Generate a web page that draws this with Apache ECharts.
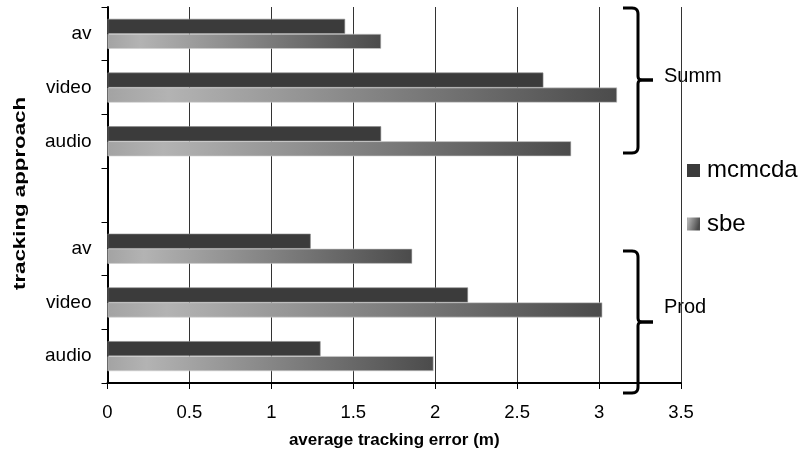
<!DOCTYPE html>
<html>
<head>
<meta charset="utf-8">
<script src="https://cdn.jsdelivr.net/npm/echarts@6/dist/echarts.min.js"></script>
<style>html,body{margin:0;padding:0;background:#fff}#c{width:804px;height:466px}</style>
</head>
<body>
<div id="c"></div>
<script>
// categories listed bottom to top
const categories = ['audio', 'video', 'av', '', 'audio', 'video', 'av'];
const mcmcda = [1.30, 2.20, 1.24, null, 1.67, 2.66, 1.45];
const sbe = [1.99, 3.02, 1.86, null, 2.83, 3.11, 1.67];
const xTicks = { min: 0, max: 3.5, interval: 0.5 };
const groupLabels = ['Summ', 'Prod'];

const FONT = '"Liberation Sans", Arial, sans-serif';
const chart = echarts.init(document.getElementById('c'), null, { renderer: 'canvas' });

const sbeGrad = {
  type: 'linear', x: 0, y: 0, x2: 1, y2: 0.3, global: false,
  colorStops: [
    { offset: 0, color: '#a3a3a3' },
    { offset: 0.12, color: '#b3b3b3' },
    { offset: 1, color: '#4b4b4b' }
  ]
};

// quadratic corner sampling for brace decoration
function quad(p0, c, p1, n) {
  const pts = [];
  for (let i = 0; i <= n; i++) {
    const t = i / n, u = 1 - t;
    pts.push([u*u*p0[0] + 2*u*t*c[0] + t*t*p1[0], u*u*p0[1] + 2*u*t*c[1] + t*t*p1[1]]);
  }
  return pts;
}
function braceHalves(x0, xv, xp, yt, ym, yb) {
  const up = [[x0, yt]].concat(
    quad([xv-6, yt], [xv, yt], [xv, yt+6], 6),
    quad([xv, ym-4], [xv, ym], [xv+4, ym], 5),
    [[xp, ym]]);
  const lo = [[xp, ym]].concat(
    quad([xv+4, ym], [xv, ym], [xv, ym+4], 5),
    quad([xv, yb-6], [xv, yb], [xv-6, yb], 6),
    [[x0, yb]]);
  return [up, lo];
}
const b1 = braceHalves(623, 638, 653, 8, 80, 153);
const b2 = braceHalves(623, 638, 653, 251, 322, 393);
const braceEls = [].concat(b1, b2).map(pts => ({
  type: 'polyline', z: 10, shape: { points: pts },
  style: { fill: null, stroke: '#000', lineWidth: 3, lineJoin: 'round' }
}));

chart.setOption({
  animation: false,
  textStyle: { fontFamily: FONT, color: '#000' },
  grid: { left: 107.5, right: 123, top: 7, bottom: 83, containLabel: false },
  legend: {
    orient: 'vertical',
    left: 687,
    top: 158.5,
    padding: 0,
    itemWidth: 13,
    itemHeight: 13,
    itemGap: 29.5,
    icon: 'rect',
    data: ['mcmcda', 'sbe'],
    itemStyle: { borderWidth: 0 },
    textStyle: { fontFamily: FONT, fontSize: 24, color: '#000', padding: [0, 0, 0, 2] }
  },
  xAxis: {
    type: 'value',
    min: xTicks.min, max: xTicks.max, interval: xTicks.interval,
    name: 'average tracking error (m)',
    nameLocation: 'middle',
    nameGap: 49,
    nameTextStyle: { fontFamily: FONT, fontSize: 17, fontWeight: 'bold', color: '#000' },
    axisLine: { show: true, lineStyle: { color: '#000', width: 2 } },
    axisTick: { show: true, length: 6, lineStyle: { color: '#000', width: 1 } },
    axisLabel: { fontFamily: FONT, fontSize: 18.5, color: '#000', margin: 20 },
    splitLine: { show: true, lineStyle: { color: '#333', width: 1 } }
  },
  yAxis: {
    type: 'category',
    data: categories,
    axisLine: { show: true, lineStyle: { color: '#000', width: 2 } },
    axisTick: { show: true, length: 6, interval: 0, lineStyle: { color: '#000', width: 1 } },
    axisLabel: { interval: 0, fontFamily: FONT, fontSize: 19, color: '#000', margin: 16 },
    splitLine: { show: false }
  },
  series: [
    {
      name: 'mcmcda', type: 'bar', data: mcmcda,
      barWidth: 15, barGap: '0%',
      itemStyle: { color: '#3b3b3b', borderColor: '#8a8a8a', borderWidth: 0.6 }
    },
    {
      name: 'sbe', type: 'bar', data: sbe,
      barWidth: 15, barGap: '0%',
      itemStyle: { color: sbeGrad, borderColor: '#cfcfcf', borderWidth: 0.6 }
    }
  ],
  graphic: braceEls.concat([
    { type: 'text', left: 664, top: 66, z: -1,
      style: { text: groupLabels[0], font: '20px ' + FONT, fill: '#000' } },
    { type: 'text', left: 664, top: 297, z: -1,
      style: { text: groupLabels[1], font: '20px ' + FONT, fill: '#000' } },
    { type: 'text', x: 20, y: 193.5, rotation: Math.PI / 2, scaleX: 1.31, scaleY: 1,
      style: { text: 'tracking approach', font: 'bold 17px ' + FONT, fill: '#000',
               align: 'center', verticalAlign: 'middle' } }
  ])
});
</script>
</body>
</html>
